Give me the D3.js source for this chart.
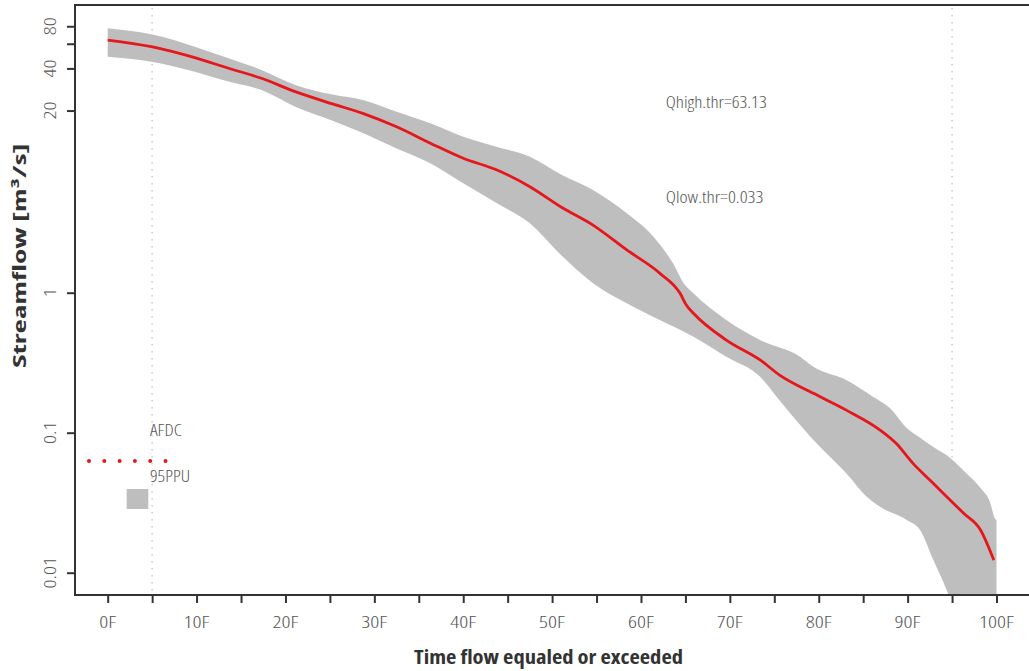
<!DOCTYPE html>
<html><head><meta charset="utf-8">
<script src="https://cdn.jsdelivr.net/npm/d3@7"></script>
<style>
body{margin:0;background:#fff;}
svg{display:block;}
.lbl{font-family:"Open Sans","Liberation Sans Narrow",sans-serif;font-weight:300;font-stretch:condensed;fill:#555;}
.ttl{font-family:"Open Sans","Liberation Sans Narrow",sans-serif;font-weight:700;font-stretch:condensed;fill:#333;}
</style></head>
<body><svg id="c" width="1029" height="671"></svg>
<script>
// AFDC (red curve): exceedance % and streamflow m3/s
const afdcX = [0,4.9,9.8,13.6,17.3,21.1,25.3,28.7,32.5,36.3,40,43.8,47.5,51.1,54.6,58.4,62.1,64.4,65.1,65.9,69.6,73.4,75.6,79.4,83.1,86.9,88.7,90.6,92.5,94.4,96.3,98.2,99.7];
const afdcY = [63.8,57.2,47.7,40.1,34.0,27.3,22.3,19.1,15.3,11.7,9.12,7.52,5.72,4.06,3.04,2.02,1.38,0.99,0.817,0.713,0.459,0.331,0.258,0.191,0.145,0.1045,0.084,0.0604,0.0459,0.0349,0.0266,0.0202,0.0123];
// 95PPU band upper bound
const upX = [0,4.9,9.8,13.6,17.3,21.1,25.3,28.7,32.5,36.3,40,43.8,47.5,51,54.6,58.4,61.4,63.6,64.8,65.9,69.6,73.4,77.9,79.4,83.1,86.1,88.0,89.9,91.4,92.9,94.8,96.6,98.2,99.3,99.8,100];
const upY = [77.4,70.1,57.2,47.2,39.0,30.5,26.0,23.8,19.6,16.2,13.0,11.0,9.36,7.0,5.42,3.69,2.51,1.62,1.17,0.99,0.638,0.459,0.349,0.296,0.238,0.181,0.150,0.108,0.092,0.079,0.066,0.0513,0.0403,0.0315,0.0245,0.0238];
// 95PPU band lower bound
const loX = [0,4.9,9.8,13.6,17.3,21.1,25.3,28.7,32.5,36.3,40,43.8,47.5,51,54.6,58.4,62.1,65.9,69.6,73.4,75.6,79.4,83.1,85.4,86.9,89.9,91.4,92.9,94.4,95.5,100];
const loY = [48.5,44.7,37.9,32.2,28.0,21.3,16.9,13.8,10.7,8.40,6.04,4.35,3.13,1.86,1.17,0.84,0.638,0.485,0.349,0.251,0.170,0.0887,0.0513,0.0349,0.0296,0.0238,0.0202,0.0123,0.0075,0.005,0.002];
// axis ticks
const xTicks = [0,5,10,15,20,25,30,35,40,45,50,55,60,65,70,75,80,85,90,95,100];
const xLabels = ["0F","10F","20F","30F","40F","50F","60F","70F","80F","90F","100F"];
const xLabelVals = [0,10,20,30,40,50,60,70,80,90,100];
const yTicks = [0.01,0.1,1,20,40,60,80];
const yLabels = ["0.01","0.1","1","20","40","","80"];
const refLines = [5,95];
const annotations = ["Qhigh.thr=63.13","Qlow.thr=0.033"];
const legendLabels = ["AFDC","95PPU"];

const svg = d3.select("#c");
const L=75, T=5, R=1040, B=595;
const x = d3.scaleLinear().domain([0,100]).range([107.7,996.5]);
const y = d3.scaleLog().domain([0.01,100]).range([572.7,12.7]);

svg.append("defs").append("clipPath").attr("id","clip")
  .append("rect").attr("x",L).attr("y",T).attr("width",R-L).attr("height",B-T);
const g = svg.append("g").attr("clip-path","url(#clip)");

// reference dotted lines
g.selectAll(".ref").data(refLines).enter().append("line")
  .attr("x1",d=>x(d)).attr("x2",d=>x(d)).attr("y1",T+3).attr("y2",B-3)
  .attr("stroke","#cfcfcf").attr("stroke-width",1.6).attr("stroke-dasharray","1.6,5.4");

// band
const edge = d3.line().x(d=>x(d[0])).y(d=>y(d[1])).curve(d3.curveMonotoneX);
const upPath = edge(upX.map((v,i)=>[v,upY[i]]));
const loPts = loX.map((v,i)=>[v,loY[i]]).reverse();
const loPath = edge(loPts);
g.append("path").attr("d",upPath+"L"+loPath.slice(1)+"Z").attr("fill","#bebebe");

// AFDC curve
g.append("path").datum(afdcX.map((v,i)=>[v,afdcY[i]]))
  .attr("d",d3.line().x(d=>x(d[0])).y(d=>y(d[1])).curve(d3.curveMonotoneX))
  .attr("fill","none").attr("stroke","#e5161c").attr("stroke-width",2.8);

// frame
svg.append("path").attr("d",`M${R},${T}H${L}V${B}H${R}`).attr("fill","none")
  .attr("stroke","#333").attr("stroke-width",2);

// x axis
const xa = svg.append("g").attr("transform",`translate(0,${B})`)
  .call(d3.axisBottom(x).tickValues(xTicks).tickSize(8).tickFormat(""));
xa.select(".domain").remove();
xa.selectAll("line").attr("stroke","#333").attr("stroke-width",2);
svg.selectAll(".xl").data(xLabelVals).enter().append("text").attr("class","lbl")
  .attr("x",d=>x(d)).attr("y",627.5).attr("text-anchor","middle").attr("font-size",17)
  .text((d,i)=>xLabels[i])
  .each(function(){ const w=this.getComputedTextLength(); d3.select(this).attr("textLength",w*1.3).attr("lengthAdjust","spacingAndGlyphs"); });

// y axis
const ya = svg.append("g").attr("transform",`translate(${L},0)`)
  .call(d3.axisLeft(y).tickValues(yTicks).tickSize(8).tickFormat(""));
ya.select(".domain").remove();
ya.selectAll("line").attr("stroke","#333").attr("stroke-width",2);
svg.selectAll(".yl").data(yTicks).enter().append("text").attr("class","lbl")
  .attr("transform",d=>`translate(55.5,${y(d)}) rotate(-90)`)
  .attr("text-anchor","middle").attr("font-size",17)
  .text((d,i)=>yLabels[i])
  .each(function(){ const w=this.getComputedTextLength(); if(w>0) d3.select(this).attr("textLength",w*1.3).attr("lengthAdjust","spacingAndGlyphs"); });

// titles
svg.append("text").attr("class","ttl").attr("x",548.5).attr("y",664)
  .attr("text-anchor","middle").attr("font-size",20)
  .attr("textLength",269).attr("lengthAdjust","spacingAndGlyphs")
  .text("Time flow equaled or exceeded");
svg.append("text").attr("class","ttl").attr("transform","translate(26,256) rotate(-90)")
  .attr("text-anchor","middle").attr("font-size",18)
  .attr("textLength",224).attr("lengthAdjust","spacingAndGlyphs")
  .text("Streamflow [m³/s]");

// annotations
svg.append("text").attr("class","lbl").attr("x",665.7).attr("y",108).attr("font-size",17)
  .attr("textLength",101).attr("lengthAdjust","spacingAndGlyphs").text(annotations[0]);
svg.append("text").attr("class","lbl").attr("x",665.7).attr("y",203).attr("font-size",17)
  .attr("textLength",97.7).attr("lengthAdjust","spacingAndGlyphs").text(annotations[1]);

// legend
svg.append("text").attr("class","lbl").attr("x",150).attr("y",435.7).attr("font-size",17)
  .attr("textLength",31.7).attr("lengthAdjust","spacingAndGlyphs").text(legendLabels[0]);
svg.append("text").attr("class","lbl").attr("x",150).attr("y",482).attr("font-size",17)
  .attr("textLength",40).attr("lengthAdjust","spacingAndGlyphs").text(legendLabels[1]);
svg.selectAll(".ld").data(d3.range(6)).enter().append("circle")
  .attr("cx",d=>89+d*15.3).attr("cy",461).attr("r",2).attr("fill","#e5161c");
svg.append("rect").attr("x",126.7).attr("y",489).attr("width",21.6).attr("height",20).attr("fill","#bebebe");
</script></body></html>
